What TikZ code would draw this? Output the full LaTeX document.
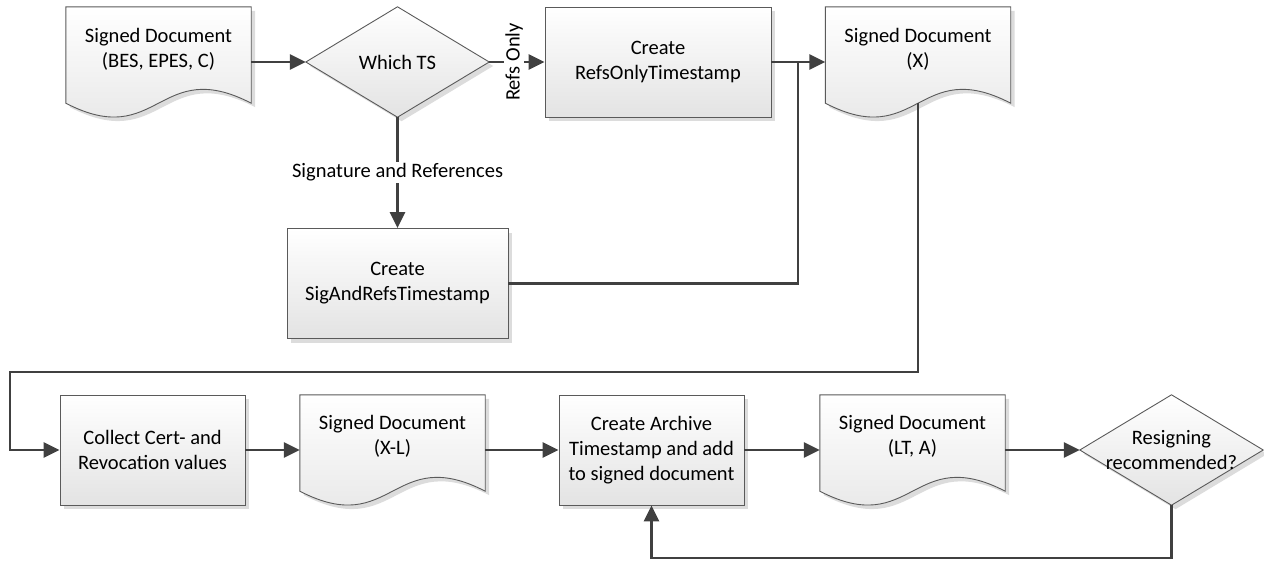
\documentclass[tikz,border=0pt]{standalone}
\usepackage{fontspec}
\setmainfont{Carlito}
\usetikzlibrary{arrows.meta,calc,shadows}
\definecolor{edgec}{HTML}{404040}
\definecolor{framec}{HTML}{5A5A5A}
\definecolor{shadec}{HTML}{E3E3E3}
\definecolor{shadowc}{HTML}{DCDCDC}
\newcommand\lblfont{\fontsize{20.5pt}{25pt}\selectfont}
% document symbol with a wavy lower edge, drawn round an invisible frame node
\newcommand\docshape[1]{%
  \draw[shapefill] (#1.north west) -- (#1.north east) -- ($(#1.south east)+(0,-14)$)
    .. controls ($(#1.south)+(0,-62)$) and ($(#1.south)+(0,34)$) .. ($(#1.south west)+(0,-14)$) -- cycle;}
% decision symbol, drawn through the anchors of an invisible frame node
\newcommand\diamshape[1]{%
  \draw[shapefill] (#1.north) -- (#1.east) -- (#1.south) -- (#1.west) -- cycle;}
\begin{document}
\begin{tikzpicture}[x=1pt,y=-1pt,
  shapefill/.style={draw=framec, line width=0.9pt, top color=white, bottom color=shadec,
    drop shadow={shadow xshift=4pt, shadow yshift=-4pt, fill=shadowc, opacity=1}},
  procbox/.style={shapefill, rectangle, minimum width=#1, minimum height=110pt,
    inner sep=0pt, align=center, font=\lblfont},
  procbox/.default=185pt,
  frame/.style={rectangle, draw=none, inner sep=0pt, minimum width=#1, minimum height=110pt},
  frame/.default=185pt,
  txt/.style={align=center, font=\lblfont, inner sep=0pt},
  conn/.style={draw=edgec, line width=2.6pt, -{Triangle[length=16pt,width=15pt]}},
  plain/.style={draw=edgec, line width=2.6pt},
  lab/.style={fill=white, font=\lblfont, inner sep=1.5pt}]
\useasboundingbox (0,0) rectangle (1264,562);

% ---- upper row ----
\node[frame] (d1) at (158.5,62) {};
\docshape{d1}
\node[txt] (d1t) at ($(d1.center)+(0,-13)$) {Signed Document\\(BES, EPES, C)};

\node[frame=183pt] (q1) at (397.5,62) {};
\diamshape{q1}
\node[txt] (q1t) at (q1.center) {Which TS};

\node[procbox=226pt] (b1) at (658,62) {Create\\RefsOnlyTimestamp};

\node[frame] (dx) at (918,62) {};
\docshape{dx}
\node[txt] (dxt) at ($(dx.center)+(0,-13)$) {Signed Document\\(X)};

\node[procbox=221pt] (b2) at (397.5,283.5) {Create\\SigAndRefsTimestamp};

% ---- lower row ----
\node[procbox] (c1) at (152.5,450) {Collect Cert- and\\Revocation values};

\node[frame] (d2) at (392.5,450) {};
\docshape{d2}
\node[txt] (d2t) at ($(d2.center)+(0,-14)$) {Signed Document\\(X-L)};

\node[procbox] (a1) at (651.5,450) {Create Archive\\Timestamp and add\\to signed document};

\node[frame] (d3) at (912.5,450) {};
\docshape{d3}
\node[txt] (d3t) at ($(d3.center)+(0,-14)$) {Signed Document\\(LT, A)};

\node[frame=183pt] (q2) at (1171.5,450) {};
\diamshape{q2}
\node[txt] (q2t) at (q2.center) {Resigning\\recommended?};

% ---- connectors ----
\coordinate (j1) at (798,62);
\coordinate (dxb) at ($(dx.south)+(0,-14)$);
\coordinate (k1) at (10,372);
\coordinate (k2) at (1171.5,558);

\draw[conn] (d1.east) -- (q1.west);
\draw[conn] (q1.east) -- node[lab, rotate=90, pos=0.45] (lr) {Refs Only} (b1.west);
\draw[conn] (q1.south) -- node[lab] (ls) {Signature and References} (b2.north);
\draw[conn] (b1.east) -- (dx.west);
\draw[plain] (b2.east) -| (j1);
\draw[conn] (dxb) |- (k1) |- (c1.west);
\draw[conn] (c1.east) -- (d2.west);
\draw[conn] (d2.east) -- (a1.west);
\draw[conn] (a1.east) -- (d3.west);
\draw[conn] (d3.east) -- (q2.west);
\draw[conn] (q2.south) |- (k2) -| (a1.south);
\end{tikzpicture}
\end{document}
